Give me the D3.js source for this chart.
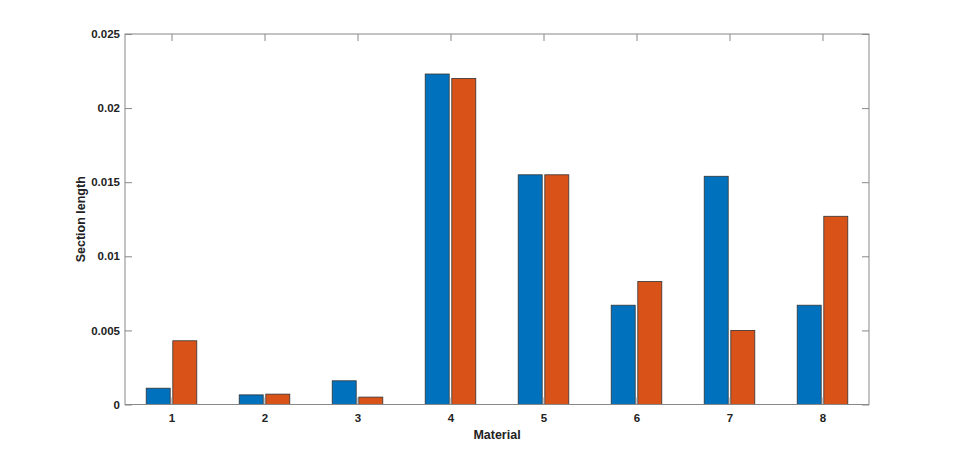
<!DOCTYPE html>
<html><head><meta charset="utf-8">
<script src="https://cdn.jsdelivr.net/npm/d3@7"></script>
<style>body{margin:0;background:#fff}svg{display:block}</style>
</head><body>
<script>
const categories = ["1","2","3","4","5","6","7","8"];
const series1 = [0.0011, 0.00065, 0.0016, 0.0223, 0.0155, 0.0067, 0.0154, 0.0067];
const series2 = [0.0043, 0.0007, 0.0005, 0.0220, 0.0155, 0.0083, 0.0050, 0.0127];
const yTicks = [0, 0.005, 0.01, 0.015, 0.02, 0.025];
const yTickLabels = ["0", "0.005", "0.01", "0.015", "0.02", "0.025"];
const colors = ["#0072BD", "#D95319"];
const xLabel = "Material", yLabel = "Section length";

const W = 960, H = 455;
const L = 125, R = 869, T = 34, B = 404.5;
const svg = d3.select("body").append("svg").attr("width", W).attr("height", H);
const x = d3.scaleLinear().domain([0.5, categories.length + 0.5]).range([L, R]);
const y = d3.scaleLinear().domain([0, 0.025]).range([B, T]);
const unit = x(2) - x(1);
const offset = 0.143, bw = 0.258;
const font = "'Liberation Sans', Arial, sans-serif";

const data = [series1, series2];
data.forEach((s, si) => {
  svg.append("g").selectAll("rect").data(s).join("rect")
    .attr("x", (d, i) => x(i + 1 + (si === 0 ? -offset : offset) - bw / 2))
    .attr("width", bw * unit)
    .attr("y", d => y(d))
    .attr("height", d => y(0) - y(d))
    .attr("fill", colors[si])
    .attr("stroke", "#333")
    .attr("stroke-width", 0.8);
});

const axCol = "#888";
svg.append("rect").attr("x", L).attr("y", T).attr("width", R - L).attr("height", B - T)
  .attr("fill", "none").attr("stroke", axCol).attr("stroke-width", 1);

const tickLen = 7;
const xAxisB = d3.axisBottom(x).tickValues(d3.range(1, categories.length + 1))
  .tickFormat((d) => categories[d - 1]).tickSizeInner(-tickLen).tickSizeOuter(0).tickPadding(12);
const gxb = svg.append("g").attr("transform", `translate(0,${B})`).call(xAxisB);
const xAxisT = d3.axisTop(x).tickValues(d3.range(1, categories.length + 1))
  .tickFormat("").tickSizeInner(-tickLen).tickSizeOuter(0);
const gxt = svg.append("g").attr("transform", `translate(0,${T})`).call(xAxisT);
const yAxisL = d3.axisLeft(y).tickValues(yTicks).tickFormat((d, i) => yTickLabels[i])
  .tickSizeInner(-tickLen).tickSizeOuter(0).tickPadding(12);
const gyl = svg.append("g").attr("transform", `translate(${L},0)`).call(yAxisL);
const yAxisR = d3.axisRight(y).tickValues(yTicks).tickFormat("").tickSizeInner(-tickLen).tickSizeOuter(0);
const gyr = svg.append("g").attr("transform", `translate(${R},0)`).call(yAxisR);
[gxb, gxt, gyl, gyr].forEach(g => {
  g.select(".domain").remove();
  g.selectAll("line").attr("stroke", axCol);
  g.selectAll("text").attr("fill", "#222").style("font-family", font)
    .style("font-size", "11.5px").style("font-weight", "bold");
});
gxb.selectAll("text").attr("dy", "0.71em").attr("y", 9);
gyl.selectAll("text").attr("x", -5);

svg.append("text").attr("x", (L + R) / 2).attr("y", 439).attr("text-anchor", "middle")
  .style("font-family", font).style("font-size", "12.5px").style("font-weight", "bold")
  .attr("fill", "#222").text(xLabel);
svg.append("text").attr("transform", `translate(85,${(T + B) / 2}) rotate(-90)`)
  .attr("text-anchor", "middle")
  .style("font-family", font).style("font-size", "12.5px").style("font-weight", "bold")
  .attr("fill", "#222").text(yLabel);
</script>
</body></html>
